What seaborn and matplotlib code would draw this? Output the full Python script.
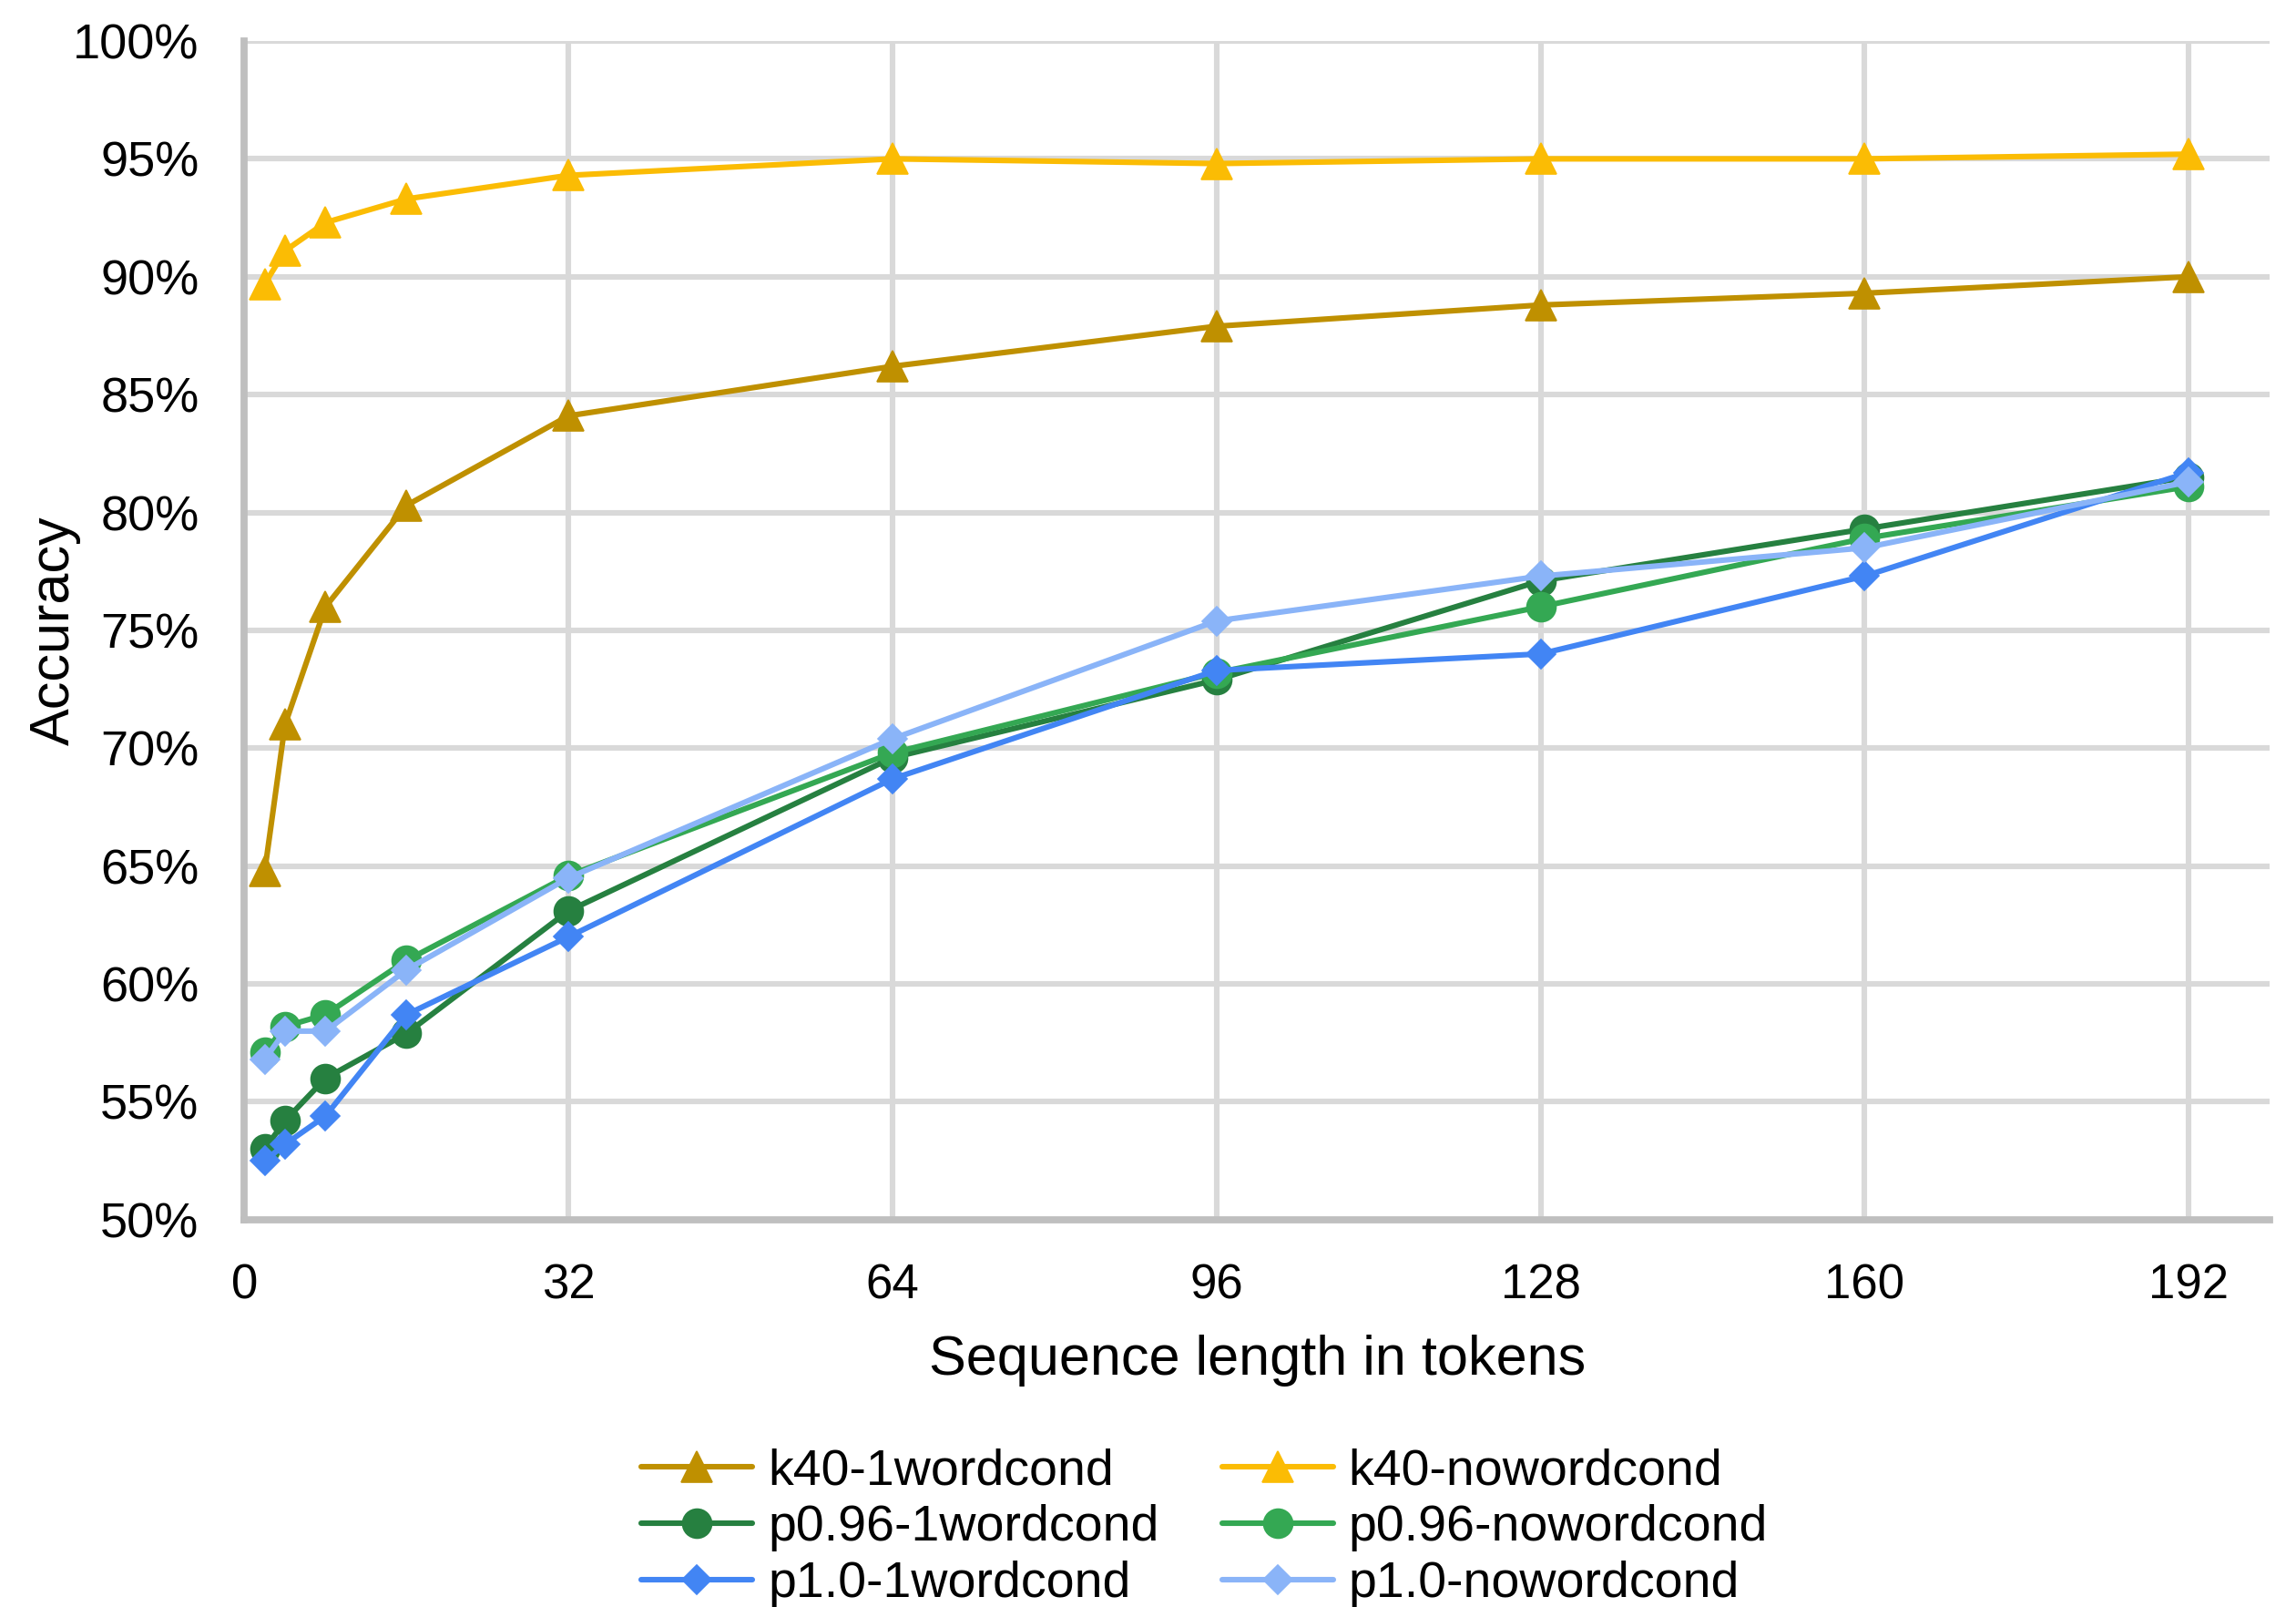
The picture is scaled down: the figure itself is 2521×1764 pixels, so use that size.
import matplotlib
matplotlib.use("Agg")
import matplotlib.pyplot as plt
import seaborn as sns
import pandas as pd
from matplotlib.ticker import FuncFormatter

# Sequence lengths (tokens) at which accuracy was measured
tokens = [2, 4, 8, 16, 32, 64, 96, 128, 160, 192]

# Accuracy (%) per sampling configuration
k40_1wordcond = [64.8, 71.0, 76.0, 80.3, 84.1, 86.2, 87.9, 88.8, 89.3, 90.0]
k40_nowordcond = [89.7, 91.1, 92.3, 93.3, 94.3, 95.0, 94.8, 95.0, 95.0, 95.2]
p096_1wordcond = [53.0, 54.2, 56.0, 57.9, 63.1, 69.6, 72.9, 77.1, 79.3, 81.5]
p096_nowordcond = [57.1, 58.2, 58.7, 61.0, 64.6, 69.8, 73.2, 76.0, 78.9, 81.1]
p10_1wordcond = [52.5, 53.2, 54.4, 58.7, 62.0, 68.7, 73.3, 74.0, 77.3, 81.7]
p10_nowordcond = [56.8, 58.0, 58.0, 60.6, 64.5, 70.4, 75.4, 77.3, 78.5, 81.3]

series_names = ["k40-1wordcond", "k40-nowordcond", "p0.96-1wordcond",
                "p0.96-nowordcond", "p1.0-1wordcond", "p1.0-nowordcond"]
series_values = [k40_1wordcond, k40_nowordcond, p096_1wordcond,
                 p096_nowordcond, p10_1wordcond, p10_nowordcond]
colors = ["#BF9000", "#FBBC04", "#268040", "#34A853", "#4285F4", "#8AB4F8"]
markers = ["^", "^", "o", "o", "D", "D"]
msizes = [12.5, 12.5, 11.5, 11.5, 8.4, 8.4]

y_ticks = list(range(50, 101, 5))
x_ticks = [0, 32, 64, 96, 128, 160, 192]

df = pd.concat(
    [pd.DataFrame({"tokens": tokens, "accuracy": vals, "series": name})
     for name, vals in zip(series_names, series_values)],
    ignore_index=True,
)

sns.set_theme(style="white")
plt.rcParams["font.family"] = ["Liberation Sans", "DejaVu Sans"]
plt.rcParams["text.color"] = "black"

fig = plt.figure(figsize=(12.605, 8.82), dpi=200)
ax = fig.add_axes([0.1065, 0.241, 0.882, 0.7335])

for name, col, mk, ms in zip(series_names, colors, markers, msizes):
    sns.lineplot(data=df[df["series"] == name], x="tokens", y="accuracy",
                 ax=ax, color=col, marker=mk, markersize=ms,
                 markeredgecolor=col, markeredgewidth=0.6, linewidth=2.2,
                 label=name, zorder=3)

ax.set_xlim(0, 200)
ax.set_ylim(50, 100)
ax.set_xticks(x_ticks)
ax.set_yticks(y_ticks)
ax.yaxis.set_major_formatter(FuncFormatter(lambda v, p: f"{v:.0f}%"))

ax.grid(True, color="#D9D9D9", linewidth=2.2, zorder=0)
ax.set_axisbelow(True)
for side in ["top", "right"]:
    ax.spines[side].set_visible(False)
for side in ["left", "bottom"]:
    ax.spines[side].set_color("#BFBFBF")
    ax.spines[side].set_linewidth(2.8)
    ax.spines[side].set_zorder(1)

ax.tick_params(axis="both", length=0, colors="black")
ax.tick_params(axis="y", labelsize=19.5, pad=18)
ax.tick_params(axis="x", labelsize=19, pad=17)
ax.set_xlabel("Sequence length in tokens", fontsize=22, labelpad=10.5, color="black")
ax.set_ylabel("Accuracy", fontsize=22, labelpad=-3, color="black")

h, l = ax.get_legend_handles_labels()
order = [0, 2, 4, 1, 3, 5]
leg = ax.legend([h[i] for i in order], [l[i] for i in order], ncol=2,
                loc="center", bbox_to_anchor=(0.5246, 0.0493),
                bbox_transform=fig.transFigure, frameon=False, fontsize=20,
                handlelength=2.2, handletextpad=0.3, columnspacing=1.25,
                labelspacing=0.18, borderpad=0)
for t in leg.get_texts():
    t.set_color("black")

fig.savefig("out.png", dpi=200)
